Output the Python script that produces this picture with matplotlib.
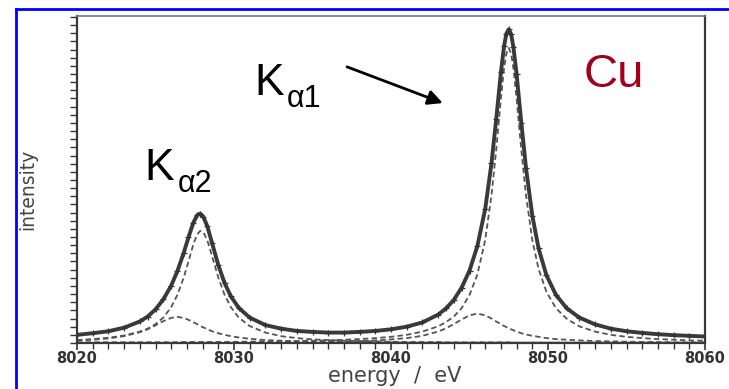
import matplotlib
matplotlib.use("Agg")
import matplotlib.pyplot as plt
from matplotlib.lines import Line2D
from matplotlib.ticker import MultipleLocator

# ---- data (intensity in % of axis height) ----
energy = [8020, 8021, 8022, 8023, 8024, 8024.5, 8025, 8025.5, 8026, 8026.4,
          8026.8, 8027.1, 8027.4, 8027.65, 8027.85, 8028.05, 8028.3, 8028.6, 8029, 8029.4,
          8029.8, 8030.3, 8031, 8032, 8033, 8034, 8035, 8036, 8037, 8038,
          8039, 8040, 8041, 8042, 8043, 8043.5, 8044, 8044.5, 8045, 8045.5,
          8046, 8046.4, 8046.7, 8047, 8047.2, 8047.35, 8047.5, 8047.65, 8047.8, 8048,
          8048.3, 8048.6, 8049, 8049.4, 8049.9, 8050.5, 8051.2, 8052, 8053, 8054,
          8055, 8056, 8057, 8058, 8059, 8060]

total = [2.5, 3.0, 3.6, 4.7, 6.6, 8.1, 10.3, 13.4, 17.6, 22.1,
         27.7, 32.4, 36.8, 39.2, 39.7, 38.7, 35.8, 30.7, 23.9, 18.4,
         14.3, 10.8, 7.8, 5.5, 4.4, 3.7, 3.4, 3.2, 3.2, 3.4,
         3.7, 4.2, 5.0, 6.3, 8.7, 10.6, 13.2, 17.0, 22.2, 29.7,
         41.1, 55.1, 68.6, 83.0, 91.0, 94.9, 96.2, 94.7, 90.7, 82.4,
         67.6, 53.6, 39.1, 29.0, 20.8, 14.8, 10.6, 7.8, 5.7, 4.4,
         3.6, 3.1, 2.7, 2.4, 2.2, 2.0]

ka1_main = [0.1, 0.2, 0.2, 0.2, 0.2, 0.2, 0.2, 0.2, 0.2, 0.2,
            0.3, 0.3, 0.3, 0.3, 0.3, 0.3, 0.3, 0.3, 0.3, 0.3,
            0.3, 0.4, 0.4, 0.5, 0.5, 0.6, 0.7, 0.8, 1.0, 1.2,
            1.5, 1.9, 2.5, 3.5, 5.1, 6.4, 8.1, 10.7, 14.7, 21.0,
            31.6, 45.3, 59.2, 75.0, 84.2, 88.8, 90.5, 88.8, 84.2, 75.0,
            59.2, 45.3, 31.6, 22.7, 15.7, 10.7, 7.4, 5.1, 3.5, 2.5,
            1.9, 1.5, 1.2, 1.0, 0.8, 0.7]

ka1_sat = [0.1, 0.1, 0.1, 0.1, 0.1, 0.1, 0.1, 0.1, 0.1, 0.1,
           0.1, 0.1, 0.1, 0.1, 0.1, 0.1, 0.1, 0.1, 0.1, 0.1,
           0.1, 0.2, 0.2, 0.2, 0.2, 0.3, 0.3, 0.4, 0.5, 0.6,
           0.8, 1.1, 1.5, 2.2, 3.5, 4.5, 5.8, 7.2, 8.5, 9.0,
           8.5, 7.5, 6.6, 5.8, 5.2, 4.9, 4.5, 4.2, 3.9, 3.5,
           3.0, 2.6, 2.2, 1.9, 1.5, 1.2, 1.0, 0.8, 0.6, 0.5,
           0.4, 0.3, 0.3, 0.2, 0.2, 0.2]

ka2_main = [0.9, 1.2, 1.6, 2.3, 3.5, 4.4, 5.8, 7.8, 11.0, 14.8,
            20.1, 25.0, 30.1, 33.3, 34.4, 34.0, 31.5, 26.7, 20.1, 14.8,
            11.0, 7.8, 5.2, 3.2, 2.1, 1.5, 1.1, 0.9, 0.7, 0.6,
            0.5, 0.4, 0.3, 0.3, 0.3, 0.2, 0.2, 0.2, 0.2, 0.2,
            0.2, 0.2, 0.2, 0.2, 0.2, 0.2, 0.2, 0.1, 0.1, 0.1,
            0.1, 0.1, 0.1, 0.1, 0.1, 0.1, 0.1, 0.1, 0.1, 0.1,
            0.1, 0.1, 0.1, 0.1, 0.1, 0.1]

ka2_sat = [0.7, 1.0, 1.4, 2.1, 3.3, 4.2, 5.4, 6.7, 7.7, 8.0,
           7.7, 7.1, 6.4, 5.8, 5.2, 4.8, 4.2, 3.6, 3.0, 2.5,
           2.1, 1.7, 1.3, 0.9, 0.7, 0.5, 0.4, 0.3, 0.3, 0.2,
           0.2, 0.2, 0.1, 0.1, 0.1, 0.1, 0.1, 0.1, 0.1, 0.1,
           0.1, 0.1, 0.1, 0.1, 0.1, 0.1, 0.1, 0.1, 0.1, 0.1,
           0.1, 0.1, 0.1, 0.1, 0.1, 0.1, 0.1, 0.1, 0.1, 0.0,
           0.0, 0.0, 0.0, 0.0, 0.0, 0.0]

x_ticks = [8020, 8030, 8040, 8050, 8060]
x_ticklabels = ["8020", "8030", "8040", "8050", "8060"]

W, H = 729, 389
fig = plt.figure(figsize=(W / 100, H / 100), dpi=100)
fig.patch.set_facecolor("white")

# axes placement (pixels): left 77, right 705, top 16, bottom 343
ax = fig.add_axes([77 / W, (H - 343) / H, 628 / W, 327 / H])
ax.set_xlim(8020, 8060)
ax.set_ylim(0, 100.3)

dash_kw = dict(color="#555555", lw=1.3, dashes=(3.0, 1.8), zorder=2)
ax.plot(energy, ka1_main, **dash_kw)
ax.plot(energy, ka1_sat, **dash_kw)
ax.plot(energy, ka2_main, **dash_kw)
ax.plot(energy, ka2_sat, **dash_kw)
ax.plot(energy, total, color="#3a3a3a", lw=2.8, zorder=3,
        marker="+", ms=4, mew=0.9, mec="#333333")

for s in ax.spines.values():
    s.set_color("#3a3a3a")
    s.set_linewidth(1.6)
ax.spines["top"].set_color("#777777")
ax.spines["top"].set_linewidth(1.2)

ax.set_xticks(x_ticks)
ax.set_xticklabels(x_ticklabels)
ax.xaxis.set_minor_locator(MultipleLocator(1))
ax.tick_params(axis="x", which="major", direction="out", length=5, width=1.2,
               color="#333333", pad=1, labelsize=10.5, labelcolor="#333333")
ax.tick_params(axis="x", which="minor", direction="out", length=4, width=1.0,
               color="#333333")
for lab in ax.get_xticklabels():
    lab.set_fontweight("bold")

ax.set_yticks([])
ax.yaxis.set_minor_locator(MultipleLocator(2.5))
ax.tick_params(axis="y", which="minor", direction="out", length=5, width=1.0,
               color="#333333", labelleft=False)

# axis titles
fig.text(395 / W, 1 - 376 / H, "energy  /  eV", ha="center", va="center",
         fontsize=15, color="#444444", family="DejaVu Sans")
fig.text(28 / W, 1 - 189 / H, "intensity", ha="center", va="center",
         rotation=90, fontsize=13.5, color="#444444", family="DejaVu Sans")

# annotations
lab_kw = dict(family="Liberation Sans", color="black", ha="left", va="baseline")
ax.text(8031.3, 76.1, "K", fontsize=32, **lab_kw)
ax.text(8033.35, 72.4, "\u03b11", fontsize=22, **lab_kw)
ax.text(8024.3, 50.0, "K", fontsize=32, **lab_kw)
ax.text(8026.4, 46.3, "\u03b12", fontsize=22, **lab_kw)
ax.text(8052.3, 78.5, "Cu", fontsize=34, family="Liberation Sans",
        color="#a3001e", ha="left", va="baseline")

ax.annotate("", xy=(8043.3, 73.6), xytext=(8037.2, 84.7),
            arrowprops=dict(arrowstyle="-|>", color="black", lw=2,
                            mutation_scale=22, shrinkA=0, shrinkB=0))

# blue frame around the figure
fig.add_artist(Line2D([16 / W, 16 / W], [0, 1 - 9 / H], transform=fig.transFigure,
                      color="#0000ff", lw=2))
fig.add_artist(Line2D([16 / W, 1], [1 - 9 / H, 1 - 9 / H], transform=fig.transFigure,
                      color="#0000ff", lw=2))

fig.savefig("out.png", dpi=100)
